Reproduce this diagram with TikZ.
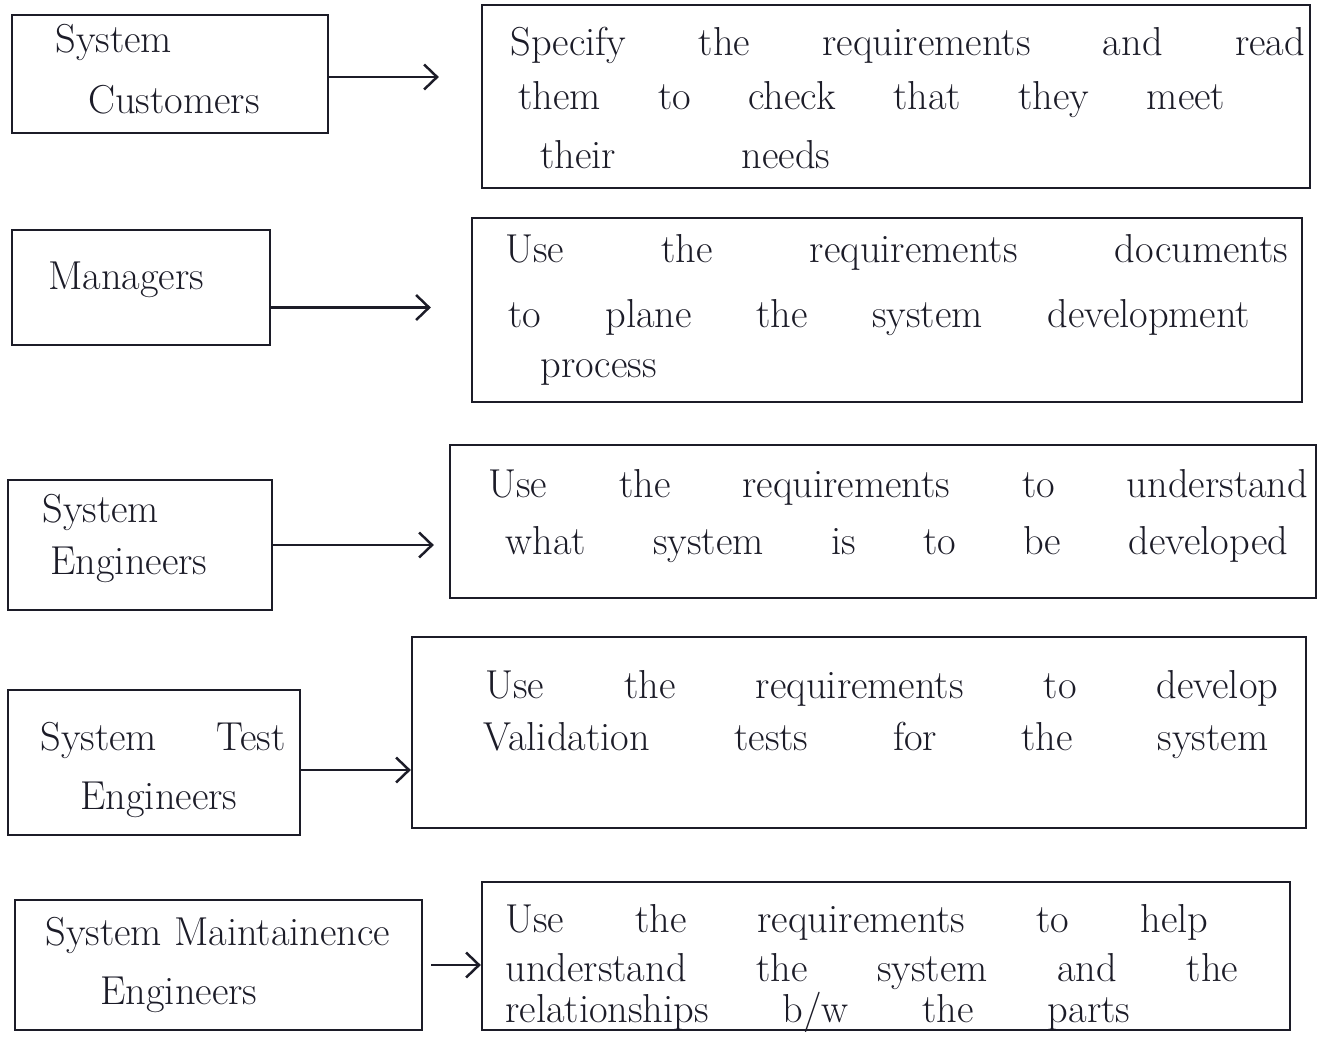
\documentclass[tikz,border=0pt]{standalone}
\usetikzlibrary{arrows.meta}
\definecolor{ink}{HTML}{1C1C28}
\begin{document}
\begin{tikzpicture}[x=0.02cm,y=-0.02cm,
  box/.style={draw=ink,line width=1.4pt,inner sep=0pt},
  txt/.style={anchor=west,inner sep=0pt,text=ink,font=\fontsize{23}{26}\selectfont},
  arr/.style={draw=ink,line width=1.4pt,-{Straight Barb[length=2.6mm,width=5mm]}}]
\useasboundingbox (0,0) rectangle (1335,1039);

% role boxes (left) and purpose boxes (right)
\node[box,minimum width=6.32cm,minimum height=2.36cm] (l1) at (170,74) {};
\node[box,minimum width=16.56cm,minimum height=3.66cm] (r1) at (896,96.5) {};
\node[box,minimum width=5.16cm,minimum height=2.3cm] (l2) at (141,287.5) {};
\node[box,minimum width=16.6cm,minimum height=3.68cm] (r2) at (887,310) {};
\node[box,minimum width=5.28cm,minimum height=2.6cm] (l3) at (140,545) {};
\node[box,minimum width=17.32cm,minimum height=3.06cm] (r3) at (883,521.5) {};
\node[box,minimum width=5.84cm,minimum height=2.9cm] (l4) at (154,762.5) {};
\node[box,minimum width=17.88cm,minimum height=3.82cm] (r4) at (859,732.5) {};
\node[box,minimum width=8.14cm,minimum height=2.6cm] (l5) at (218.5,965) {};
\node[box,minimum width=16.16cm,minimum height=2.96cm] (r5) at (886,956) {};

% role labels
\node[txt] (l1a) at (55,42) {System};
\node[txt] (l1b) at (88,100) {Customers};
\node[txt] (l2a) at (48,280) {Managers};
\node[txt] (l3a) at (42,512) {System};
\node[txt] (l3b) at (50,565) {Engineers};
\node[txt] (l4a) at (40,740) {\makebox[4.9cm][s]{System Test}};
\node[txt] (l4b) at (80,800) {Engineers};
\node[txt] (l5a) at (45,935) {System Maintainence};
\node[txt] (l5b) at (100,995) {Engineers};

% purpose texts
\node[txt] (r1a) at (510,45) {\makebox[15.9cm][s]{Specify the requirements and read}};
\node[txt] (r1b) at (518,100) {\makebox[14.14cm][s]{them to check that they meet}};
\node[txt] (r1c) at (540,155) {\makebox[5.8cm][s]{their needs}};
\node[txt] (r2a) at (505,252) {\makebox[15.66cm][s]{Use the requirements documents}};
\node[txt] (r2b) at (508,318) {\makebox[14.84cm][s]{to plane the system development}};
\node[txt] (r2c) at (540,372) {process};
\node[txt] (r3a) at (488,487) {\makebox[16.4cm][s]{Use the requirements to understand}};
\node[txt] (r3b) at (505,545) {\makebox[15.66cm][s]{what system is to be developed}};
\node[txt] (r4a) at (485,688) {\makebox[15.86cm][s]{Use the requirements to develop}};
\node[txt] (r4b) at (483,740) {\makebox[15.7cm][s]{Validation tests for the system}};
\node[txt] (r5a) at (505,922) {\makebox[14.06cm][s]{Use the requirements to help}};
\node[txt] (r5b) at (505,972) {\makebox[14.66cm][s]{understand the system and the}};
\node[txt] (r5c) at (505,1012) {\makebox[12.5cm][s]{relationships b/w the parts}};

% connectors
\draw[arr,shorten >=0.84cm] ([yshift=-0.06cm]l1.east) -- ([yshift=-0.06cm]l1.east -| r1.west);
\draw[arr,shorten >=0.8cm] ([yshift=-0.4cm]l2.east) -- ([yshift=-0.4cm]l2.east -| r2.west);
\draw[arr,shorten >=0.3cm] (l3.east) -- (l3.east -| r3.west);
\draw[arr] ([yshift=-0.15cm]l4.east) -- ([yshift=-0.15cm]l4.east -| r4.west);
\draw[arr,shorten <=0.16cm] (l5.east) -- (l5.east -| r5.west);
\end{tikzpicture}
\end{document}
